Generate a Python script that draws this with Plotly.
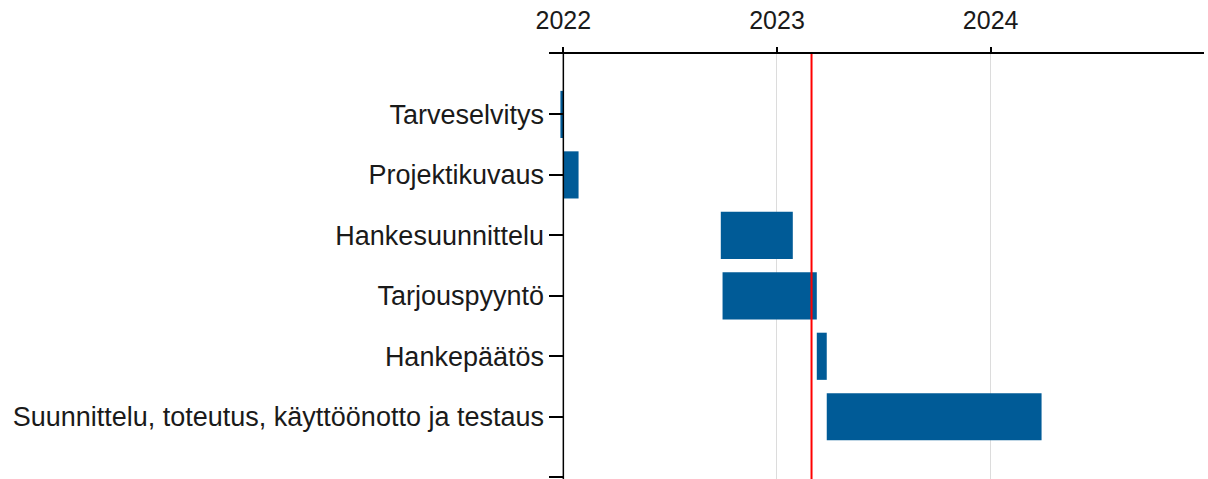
import pandas as pd
import plotly.graph_objects as go

tasks = ["Tarveselvitys", "Projektikuvaus", "Hankesuunnittelu", "Tarjouspyyntö",
         "Hankepäätös", "Suunnittelu, toteutus, käyttöönotto ja testaus"]
starts = ["2021-12-27", "2022-01-01", "2022-09-27", "2022-09-30", "2023-03-10", "2023-03-27"]
ends = ["2022-01-01", "2022-01-27", "2023-01-28", "2023-03-10", "2023-03-27", "2024-03-28"]
today = "2023-03-01"
x_range = ["2021-12-07 12:00", "2024-12-30 12:00"]
year_ticks = ["2022-01-01", "2023-01-01", "2024-01-01"]
year_labels = ["2022", "2023", "2024"]

W, H = 1208, 479
dom = [549 / W, 1204 / W]

s = pd.to_datetime(starts)
e = pd.to_datetime(ends)
dur_ms = ((e - s).total_seconds() * 1000).tolist()
ypos = list(range(1, len(tasks) + 1))

fig = go.Figure()
fig.add_trace(go.Bar(
    y=ypos, x=dur_ms, base=[str(d.date()) for d in s], orientation="h",
    width=0.78, marker=dict(color="#005b97", line=dict(width=0)),
    hovertext=tasks, showlegend=False,
))

xfont = dict(family="Liberation Sans, Arial, sans-serif", size=25, color="#1a1a1a")
yfont = dict(family="Liberation Sans, Arial, sans-serif", size=27, color="#1a1a1a")

fig.update_layout(
    template="none",
    width=W, height=H,
    margin=dict(l=0, r=0, t=54, b=0, pad=0),
    paper_bgcolor="white", plot_bgcolor="white",
    showlegend=False,
    xaxis=dict(
        type="date", range=x_range, domain=dom, side="top", automargin=False,
        tickvals=year_ticks, ticktext=year_labels,
        showline=True, linecolor="black", linewidth=1.5,
        ticks="outside", ticklen=5, tickwidth=1.5, tickcolor="black",
        ticklabelstandoff=8,
        showgrid=True, gridcolor="#dcdcdc", gridwidth=1,
        zeroline=False, tickfont=xfont,
    ),
    yaxis=dict(
        range=[7.03, 0], automargin=False,
        tickvals=ypos + [7], ticktext=tasks + [""],
        showline=False,
        ticks="inside", ticklen=15, tickwidth=1.5, tickcolor="black",
        ticklabelstandoff=4,
        showgrid=False, zeroline=False, tickfont=yfont,
    ),
    shapes=[
        dict(type="line", xref="x", yref="paper", x0=year_ticks[0], x1=year_ticks[0],
             y0=0, y1=1, line=dict(color="black", width=1.5)),
        dict(type="line", xref="x", yref="paper", x0=today, x1=today,
             y0=0, y1=1, line=dict(color="#ff0000", width=2)),
    ],
)

fig.write_html("out.html")
